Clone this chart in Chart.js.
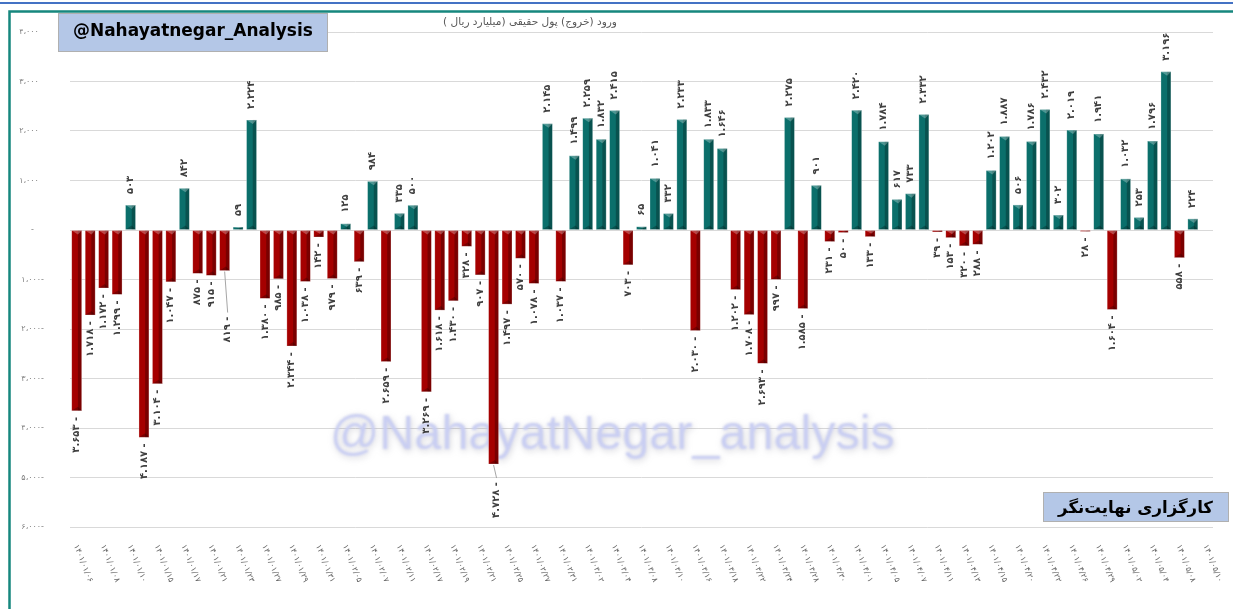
<!DOCTYPE html>
<html>
<head>
<meta charset="utf-8">
<script src="https://cdn.jsdelivr.net/npm/chart.js@4.4.1/dist/chart.umd.min.js"></script>
<style>
  html, body { margin: 0; padding: 0; background: #fff; }
  canvas { display: block; }
</style>
</head>
<body>
<canvas id="flowChart" width="1233" height="609"></canvas>
<script>
// date shown under every second bar
const dateLabels = [
  '1401/01/06', '1401/01/08', '1401/01/10', '1401/01/15', '1401/01/17', '1401/01/21',
  '1401/01/23', '1401/01/27', '1401/01/29', '1401/01/31', '1401/02/05', '1401/02/07',
  '1401/02/11', '1401/02/17', '1401/02/19', '1401/02/21', '1401/02/25', '1401/02/27',
  '1401/02/31', '1401/03/02', '1401/03/04', '1401/03/08', '1401/03/10', '1401/03/16',
  '1401/03/18', '1401/03/22', '1401/03/24', '1401/03/28', '1401/03/30', '1401/04/01',
  '1401/04/05', '1401/04/07', '1401/04/11', '1401/04/13', '1401/04/15', '1401/04/20',
  '1401/04/22', '1401/04/26', '1401/04/29', '1401/05/02', '1401/05/04', '1401/05/08',
  '1401/05/10'
];

// net real-money flow, billion rials (last day has no bar)
const netFlow = [
  -3653, -1718, -1172, -1299, 503, -4187, -3104, -1047, 842, -875,
  -915, -819, 59, 2224, -1380, -985, -2344, -1038, -142, -979,
  125, -639, 984, -2659, 335, 500, -3269, -1618, -1430, -328,
  -907, -4728, -1497, -570, -1078, 2145, -1037, 1499, 2259, 1832,
  2415, -703, 65, 1041, 332, 2233, -2030, 1833, 1646, -1202,
  -1708, -2693, -997, 2275, -1585, 901, -231, -50, 2420, -133,
  1784, 617, 733, 2332, -39, -153, -320, -288, 1202, 1887,
  506, 1786, 2432, 302, 2019, -28, 1941, -1604, 1032, 253,
  1796, 3196, -558, 224, null
];

const yMin = -6000;
const yMax = 4000;
const yStep = 1000;

const chartTitle = 'ورود (خروج) پول حقیقی (میلیارد ریال )';
const brandLatin = '@Nahayatnegar_Analysis';
const brandFarsi = 'کارگزاری نهایت‌نگر';
const watermarkText = '@NahayatNegar_analysis';

const categories = netFlow.map((v, i) => (i % 2 === 0 ? dateLabels[i / 2] : ''));

const UP = '#0b6f6b';
const DOWN = '#a50000';

// labels that Excel pushed away from their bar, with a leader line (extra px)
const pushedLabels = { 11: 40, 31: 12 };

function fa(s) {
  return String(s).replace(/\d/g, d => '۰۱۲۳۴۵۶۷۸۹'[d]);
}

function barLabel(v) {
  let s = fa(Math.abs(v).toLocaleString('en-US').replace(/,/g, '.'));
  return v < 0 ? s + ' -' : s;
}

function axisLabel(v) {
  if (v === 0) return '-    ';
  let s = fa(Math.abs(v).toLocaleString('en-US').replace(/,/g, '،'));
  return v < 0 ? s + '-' : s + '  ';
}

function fitFont(ctx, text, weight, family, width) {
  ctx.font = weight + ' 20px ' + family;
  let size = 20 * width / ctx.measureText(text).width;
  return weight + ' ' + size.toFixed(2) + 'px ' + family;
}

function drawBox(ctx, x, y, w, h) {
  ctx.fillStyle = '#b4c7e7';
  ctx.fillRect(x, y, w, h);
  ctx.strokeStyle = '#b0b0b0';
  ctx.lineWidth = 1;
  ctx.strokeRect(x + 0.5, y + 0.5, w - 1, h - 1);
}

const decor = {
  id: 'decor',
  beforeDraw(chart) {
    const ctx = chart.ctx;
    ctx.save();
    ctx.fillStyle = '#fff';
    ctx.fillRect(0, 0, chart.width, chart.height);
    ctx.fillStyle = '#4472c4';
    ctx.fillRect(0, 2, chart.width, 2);
    ctx.strokeStyle = '#16877e';
    ctx.lineWidth = 2.5;
    ctx.beginPath();
    ctx.moveTo(9.5, chart.height + 5);
    ctx.lineTo(9.5, 11.5);
    ctx.lineTo(chart.width + 5, 11.5);
    ctx.stroke();
    ctx.restore();
  },
  beforeDatasetsDraw(chart) {
    // blurred watermark behind the bars
    const ctx = chart.ctx;
    ctx.save();
    ctx.font = fitFont(ctx, watermarkText, 'normal', '"Liberation Sans", Arial', 565);
    ctx.textBaseline = 'alphabetic';
    ctx.textAlign = 'left';
    ctx.shadowColor = 'rgba(110, 110, 130, 0.3)';
    ctx.shadowBlur = 6;
    ctx.shadowOffsetX = 1;
    ctx.shadowOffsetY = 2;
    ctx.filter = 'blur(0.8px)';
    ctx.fillStyle = '#c9cef2';
    ctx.fillText(watermarkText, 330, 449);
    ctx.restore();
  },
  afterDatasetsDraw(chart) {
    const ctx = chart.ctx;
    const meta = chart.getDatasetMeta(0);
    ctx.save();
    meta.data.forEach((bar, i) => {
      const v = netFlow[i];
      if (v === null) return;
      const p = bar.getProps(['x', 'y', 'base', 'width'], true);
      const left = p.x - p.width / 2;
      const right = p.x + p.width / 2;
      const top = Math.min(p.y, p.base);
      const bottom = Math.max(p.y, p.base);
      const h = bottom - top;
      const mid = p.x + p.width * 0.12;
      const cap = Math.min(4, h / 2);
      // darker right face
      ctx.fillStyle = 'rgba(0,0,0,0.26)';
      ctx.fillRect(mid, top, right - mid, h);
      // light bevel at top
      ctx.fillStyle = 'rgba(255,255,255,0.28)';
      ctx.beginPath();
      ctx.moveTo(left, top);
      ctx.lineTo(right, top);
      ctx.lineTo(mid, top + cap);
      ctx.closePath();
      ctx.fill();
      // dark bevel at bottom
      ctx.fillStyle = 'rgba(0,0,0,0.25)';
      ctx.beginPath();
      ctx.moveTo(left, bottom);
      ctx.lineTo(right, bottom);
      ctx.lineTo(mid, bottom - cap);
      ctx.closePath();
      ctx.fill();
      ctx.strokeStyle = 'rgba(255,255,255,0.45)';
      ctx.lineWidth = 0.6;
      ctx.strokeRect(left, top, p.width, h);

      // value label, vertical
      const push = pushedLabels[i] || 0;
      if (push) {
        ctx.strokeStyle = '#a6a6a6';
        ctx.lineWidth = 1;
        ctx.beginPath();
        ctx.moveTo(p.x, p.y + 1);
        ctx.lineTo(p.x + 3, p.y + push + 2);
        ctx.stroke();
      }
      ctx.save();
      ctx.font = 'bold 10px "DejaVu Sans"';
      ctx.fillStyle = '#404040';
      ctx.direction = 'ltr';
      ctx.textBaseline = 'middle';
      if (v >= 0) {
        ctx.translate(p.x, p.y - 11);
        ctx.rotate(-Math.PI / 2);
        ctx.textAlign = 'left';
      } else {
        ctx.translate(p.x + (push ? 3 : 0), p.y + 6 + push);
        ctx.rotate(-Math.PI / 2);
        ctx.textAlign = 'right';
      }
      ctx.fillText(barLabel(v), 0, 0);
      ctx.restore();
    });

    // slanted date labels
    const xs = chart.scales.x;
    ctx.font = '8px "DejaVu Sans"';
    ctx.fillStyle = '#666';
    ctx.direction = 'ltr';
    ctx.textAlign = 'left';
    ctx.textBaseline = 'middle';
    categories.forEach((c, i) => {
      if (!c) return;
      ctx.save();
      ctx.translate(xs.getPixelForValue(i) - 1, 545);
      ctx.rotate(68 * Math.PI / 180);
      ctx.fillText(fa(c), 0, 0);
      ctx.restore();
    });
    ctx.restore();
  },
  afterDraw(chart) {
    const ctx = chart.ctx;
    ctx.save();
    // chart title
    ctx.font = fitFont(ctx, chartTitle, 'normal', '"DejaVu Sans"', 174);
    ctx.fillStyle = '#595959';
    ctx.direction = 'rtl';
    ctx.textAlign = 'center';
    ctx.textBaseline = 'middle';
    ctx.fillText(chartTitle, 530, 22);

    // brand boxes
    drawBox(ctx, 58, 13, 270, 39);
    ctx.direction = 'ltr';
    ctx.textAlign = 'left';
    ctx.textBaseline = 'alphabetic';
    ctx.fillStyle = '#000';
    ctx.font = fitFont(ctx, brandLatin, 'bold', '"DejaVu Sans"', 240);
    ctx.fillText(brandLatin, 73, 36);

    drawBox(ctx, 1043, 492, 186, 30);
    ctx.fillStyle = '#000';
    ctx.direction = 'rtl';
    ctx.textAlign = 'right';
    ctx.font = fitFont(ctx, brandFarsi, 'bold', '"DejaVu Sans"', 155);
    ctx.fillText(brandFarsi, 1213, 513);
    ctx.restore();
  }
};

new Chart(document.getElementById('flowChart'), {
  type: 'bar',
  data: {
    labels: categories,
    datasets: [{
      data: netFlow,
      backgroundColor: netFlow.map(v => (v !== null && v < 0 ? DOWN : UP)),
      borderWidth: 0,
      categoryPercentage: 1,
      barPercentage: 0.74
    }]
  },
  options: {
    responsive: false,
    animation: false,
    devicePixelRatio: 1,
    layout: { padding: { left: 8, top: 32, right: 20, bottom: 0 } },
    plugins: {
      legend: { display: false },
      tooltip: { enabled: false }
    },
    scales: {
      x: {
        grid: { display: false },
        border: { display: false },
        ticks: { display: false },
        afterFit(scale) { scale.height = 82; }
      },
      y: {
        min: yMin,
        max: yMax,
        grid: { color: '#d9d9d9', lineWidth: 1, drawTicks: false },
        border: { display: false },
        ticks: {
          stepSize: yStep,
          padding: 26,
          color: '#7f7f7f',
          font: { family: '"DejaVu Sans"', size: 8 },
          callback: v => axisLabel(v)
        },
        afterFit(scale) { scale.width = 62; }
      }
    }
  },
  plugins: [decor]
});
</script>
</body>
</html>
